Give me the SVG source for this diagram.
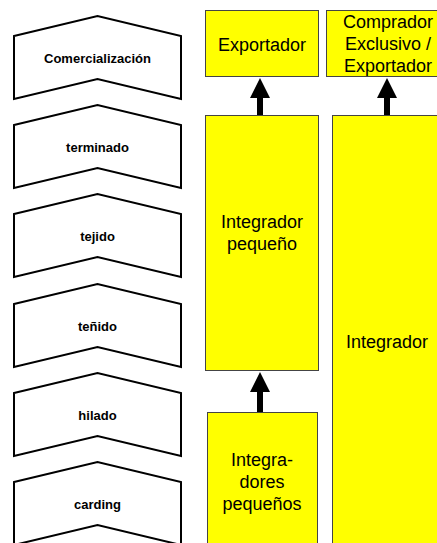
<svg xmlns="http://www.w3.org/2000/svg" width="437" height="543" viewBox="0 0 437 543">
<style>
.chev{fill:#fff;stroke:#000;stroke-width:2;stroke-linejoin:miter}
.cl{font-family:"Liberation Sans",Arial,sans-serif;font-weight:bold;font-size:13px;fill:#000;text-anchor:middle}
.box{fill:#ffff00;stroke:#444;stroke-width:1}
.bl{font-family:"Liberation Sans",Arial,sans-serif;font-size:18px;fill:#000;text-anchor:middle}
.arr{fill:#000}
</style>
<rect width="437" height="543" fill="#fff"/>
<g id="comercializacion">
<polygon class="chev" points="14,36 97.5,16 181,36 181,99 97.5,79 14,99"/>
<text class="cl" x="97.5" y="63">Comercialización</text>
</g>
<g id="terminado">
<polygon class="chev" points="14,125 97.5,105 181,125 181,188 97.5,168 14,188"/>
<text class="cl" x="97.5" y="152">terminado</text>
</g>
<g id="tejido">
<polygon class="chev" points="14,214 97.5,194 181,214 181,277 97.5,257 14,277"/>
<text class="cl" x="97.5" y="241">tejido</text>
</g>
<g id="tenido">
<polygon class="chev" points="14,304 97.5,284 181,304 181,367 97.5,347 14,367"/>
<text class="cl" x="97.5" y="331">teñido</text>
</g>
<g id="hilado">
<polygon class="chev" points="14,393 97.5,373 181,393 181,456 97.5,436 14,456"/>
<text class="cl" x="97.5" y="420">hilado</text>
</g>
<g id="carding">
<polygon class="chev" points="14,482 97.5,462 181,482 181,545 97.5,525 14,545"/>
<text class="cl" x="97.5" y="509">carding</text>
</g>
<g id="exportador">
<rect class="box" x="205.5" y="10.5" width="113" height="66"/>
<text class="bl" x="262" y="51">Exportador</text>
</g>
<g id="comprador">
<rect class="box" x="326.5" y="10.5" width="122" height="66"/>
<text class="bl" x="388" y="28">Comprador</text>
<text class="bl" x="388" y="50">Exclusivo /</text>
<text class="bl" x="388" y="72">Exportador</text>
</g>
<g id="integrador-pequeno">
<rect class="box" x="205.5" y="115.5" width="113" height="255"/>
<text class="bl" x="262" y="228">Integrador</text>
<text class="bl" x="262" y="250">pequeño</text>
</g>
<g id="integrador">
<rect class="box" x="332.5" y="115.5" width="120" height="440" stroke="#777"/>
<text class="bl" x="387" y="348">Integrador</text>
</g>
<g id="integradores-pequenos">
<rect class="box" x="207.5" y="412.5" width="110" height="140" stroke="#777"/>
<text class="bl" x="262" y="466">Integra-</text>
<text class="bl" x="262" y="488">dores</text>
<text class="bl" x="262" y="510">pequeños</text>
</g>
<g id="connectors">
<polygon class="arr" points="260,78 270,98 263,98 263,115 257,115 257,98 250,98"/>
<polygon class="arr" points="387,78 397,98 390,98 390,115 384,115 384,98 377,98"/>
<polygon class="arr" points="260,372 270,392 263,392 263,412 257,412 257,392 250,392"/>
</g>
</svg>
